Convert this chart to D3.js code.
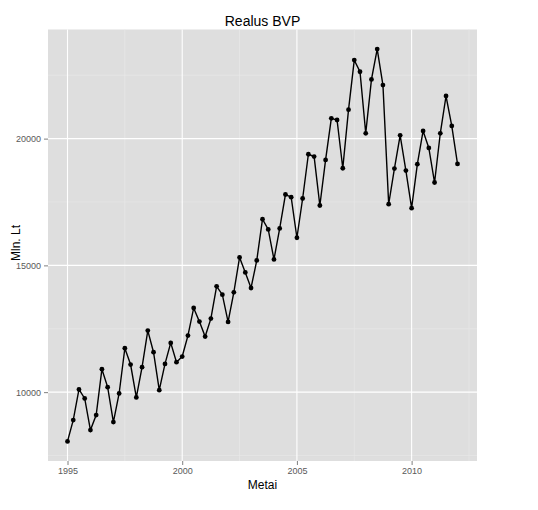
<!DOCTYPE html>
<html lang="lt">
<head>
<meta charset="utf-8">
<style>
  body { margin: 0; background: #fff; }
  text { font-family: "Liberation Sans", Arial, sans-serif; }
  .tick text { fill: #595959; font-size: 9px; }
  .tick line { stroke: #7f7f7f; }
</style>
</head>
<body>
<svg width="538" height="510"></svg>
<script src="https://d3js.org/d3.v7.min.js"></script>
<script>
// ketvirčiai nuo 1995 Q1 iki 2012 Q1
var startYear = 1995;
var bvp = [
  8058, 8898, 10105, 9751,
  8504, 9094, 10906, 10197,
  8819, 9948, 11732, 11089,
  9790, 10984, 12428, 11575,
  10079, 11115, 11942, 11181,
  11404, 12231, 13320, 12782,
  12192, 12900, 14173, 13845,
  12769, 13937, 15315, 14724,
  14108, 15197, 16824, 16417,
  15236, 16457, 17795, 17690,
  16089, 17638, 19383, 19291,
  17362, 19160, 20801, 20735,
  18832, 21142, 23097, 22638,
  20210, 22336, 23530, 22113,
  17415, 18819, 20131, 18740,
  17257, 18990, 20302, 19633,
  18268, 20210, 21680, 20499,
  19003
];
var xTicks = [1995, 2000, 2005, 2010];
var yTicks = [10000, 15000, 20000];
var xMinor = [1997.5, 2002.5, 2007.5, 2012.5];
var yMinor = [7500, 12500, 17500, 22500];

var data = bvp.map(function (v, i) { return { t: startYear + i / 4, v: v }; });

var svg = d3.select("svg"),
    pLeft = 48, pRight = 477, pTop = 29.5, pBottom = 461;

var tMin = d3.min(data, function (d) { return d.t; }),
    tMax = d3.max(data, function (d) { return d.t; }),
    vMin = d3.min(data, function (d) { return d.v; }),
    vMax = d3.max(data, function (d) { return d.v; });
var tPad = (tMax - tMin) * 0.05, vPad = (vMax - vMin) * 0.05;

var x = d3.scaleLinear().domain([tMin - tPad, tMax + tPad]).range([pLeft, pRight]);
var y = d3.scaleLinear().domain([vMin - vPad, vMax + vPad]).range([pBottom, pTop]);

// panel
svg.append("rect")
    .attr("x", pLeft).attr("y", pTop)
    .attr("width", pRight - pLeft).attr("height", pBottom - pTop)
    .attr("fill", "#dedede");

var grid = svg.append("g");
grid.selectAll(".vminor").data(xMinor.filter(function (d) { return x(d) < pRight; }))
    .enter().append("line")
    .attr("x1", function (d) { return x(d); }).attr("x2", function (d) { return x(d); })
    .attr("y1", pTop).attr("y2", pBottom)
    .attr("stroke", "#eaeaea").attr("stroke-width", 0.6);
grid.selectAll(".hminor").data(yMinor.filter(function (d) { return y(d) > pTop && y(d) < pBottom; }))
    .enter().append("line")
    .attr("x1", pLeft).attr("x2", pRight)
    .attr("y1", function (d) { return y(d); }).attr("y2", function (d) { return y(d); })
    .attr("stroke", "#eaeaea").attr("stroke-width", 0.6);
grid.selectAll(".vmajor").data(xTicks)
    .enter().append("line")
    .attr("x1", function (d) { return x(d); }).attr("x2", function (d) { return x(d); })
    .attr("y1", pTop).attr("y2", pBottom)
    .attr("stroke", "#fff").attr("stroke-width", 1.1);
grid.selectAll(".hmajor").data(yTicks)
    .enter().append("line")
    .attr("x1", pLeft).attr("x2", pRight)
    .attr("y1", function (d) { return y(d); }).attr("y2", function (d) { return y(d); })
    .attr("stroke", "#fff").attr("stroke-width", 1.1);

// axes
var xAxis = svg.append("g")
    .attr("transform", "translate(0," + pBottom + ")")
    .call(d3.axisBottom(x).tickValues(xTicks).tickFormat(d3.format("d")).tickSize(4).tickPadding(3));
var yAxis = svg.append("g")
    .attr("transform", "translate(" + pLeft + ",0)")
    .call(d3.axisLeft(y).tickValues(yTicks).tickFormat(d3.format("d")).tickSize(4).tickPadding(3));
[xAxis, yAxis].forEach(function (a) {
    a.select(".domain").remove();
    a.selectAll("text").attr("font-family", null);
});

// line + points
var line = d3.line()
    .x(function (d) { return x(d.t); })
    .y(function (d) { return y(d.v); });

svg.append("path")
    .datum(data)
    .attr("d", line)
    .attr("fill", "none")
    .attr("stroke", "#000")
    .attr("stroke-width", 1.4);

svg.selectAll(".pt").data(data)
    .enter().append("circle")
    .attr("class", "pt")
    .attr("cx", function (d) { return x(d.t); })
    .attr("cy", function (d) { return y(d.v); })
    .attr("r", 2.4)
    .attr("fill", "#000");

// titles
svg.append("text")
    .attr("x", (pLeft + pRight) / 2).attr("y", 26)
    .attr("text-anchor", "middle")
    .attr("font-size", 14)
    .text("Realus BVP");

svg.append("text")
    .attr("x", (pLeft + pRight) / 2).attr("y", 489)
    .attr("text-anchor", "middle")
    .attr("font-size", 12)
    .text("Metai");

svg.append("text")
    .attr("transform", "translate(20,243) rotate(-90)")
    .attr("text-anchor", "middle")
    .attr("font-size", 12)
    .text("Mln. Lt");
</script>
</body>
</html>
